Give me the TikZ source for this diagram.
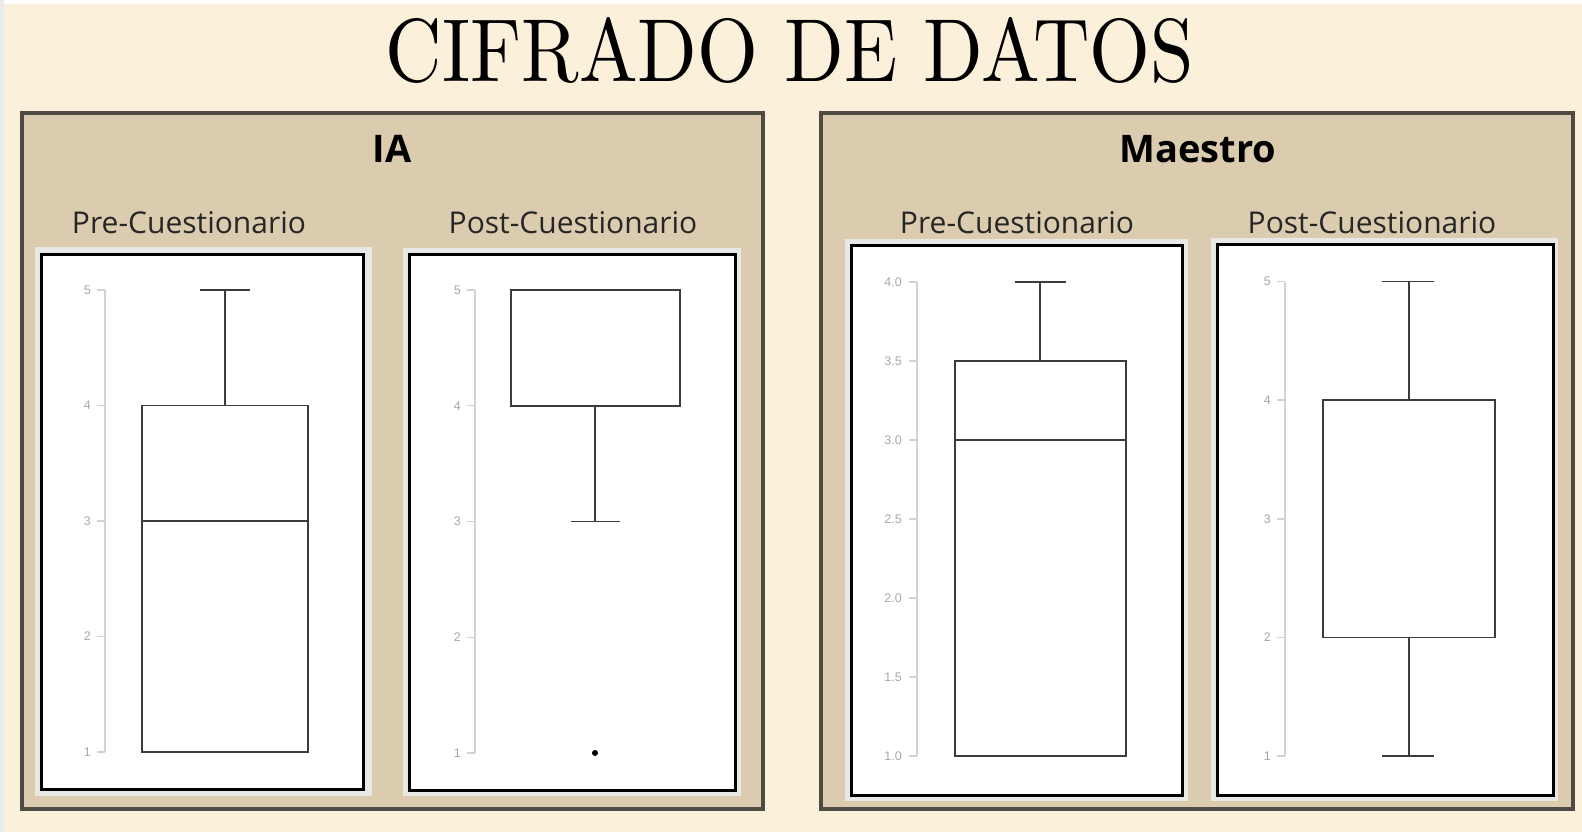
\documentclass[tikz,border=0pt]{standalone}
\usepackage{fontspec}
\usepackage{xcolor}
\usepackage{tikz}
\usetikzlibrary{positioning}
\newfontfamily\opensans{Open Sans}
\newfontfamily\ticksans{Liberation Sans}
\definecolor{cream}{HTML}{FBF0DA}
\definecolor{sand}{HTML}{DBCCB0}
\definecolor{panelline}{HTML}{4E4B45}
\definecolor{boxgray}{HTML}{3C3C3C}
\definecolor{axisgray}{HTML}{D2D2D2}
\definecolor{tickgray}{HTML}{A8A8A8}
\definecolor{halo}{HTML}{E8E8E6}

\begin{document}
\begin{tikzpicture}[
      x=1pt, y=-1pt,
      panel/.style={draw=panelline, fill=sand, line width=4pt},
      haloframe/.style={fill=halo},
      plotframe/.style={draw=black, fill=white, line width=3pt},
      boxline/.style={draw=boxgray, line width=1.8pt},
      axisline/.style={draw=axisgray, line width=1.4pt},
      ticklabel/.style={font=\ticksans\fontsize{12.5}{12.5}\selectfont, text=tickgray, inner sep=0pt, anchor=east},
      paneltitle/.style={font=\opensans\bfseries\fontsize{38}{38}\selectfont, inner sep=0pt, anchor=base},
      subtitle/.style={font=\opensans\fontsize{30}{30}\selectfont, inner sep=0pt, anchor=base, text=black!85}
    ]
    
    % background
    \fill[cream] (0,0) rectangle (1582,832);
    \useasboundingbox (0,0) rectangle (1582,832);
    \fill[white] (0,0) rectangle (1582,4);
    \fill[black!8] (0,0) rectangle (4,832);
    
    \node (title) [inner sep=0pt] at (790,50) {\resizebox{808pt}{64pt}{CIFRADO DE DATOS}};
    
    % panels
    \draw[panel] (22,113) rectangle (763,809);
    \draw[panel] (821,113) rectangle (1573,809);
    
    \node (ia) [paneltitle] at (392,163) {IA};
    \node (maestro) [paneltitle] at (1198,163) {Maestro};
    
    \node (iapre) [subtitle] at (189,233) {Pre-Cuestionario};
    \node (iapost) [subtitle] at (573,233) {Post-Cuestionario};
    \node (mpre) [subtitle] at (1017,233) {Pre-Cuestionario};
    \node (mpost) [subtitle] at (1372,233) {Post-Cuestionario};
    
    % plot frames
    \fill[haloframe] (35,247) rectangle (372,796);
    \fill[haloframe] (403,248) rectangle (741,796);
    \fill[haloframe] (845,239) rectangle (1188,801);
    \fill[haloframe] (1211,238) rectangle (1558,801);
    \draw[plotframe] (41,254) rectangle (363,789);
    \draw[plotframe] (409,254) rectangle (735,790);
    \draw[plotframe] (851,245) rectangle (1182,795);
    \draw[plotframe] (1217,244) rectangle (1553,795);
    
    % IA, pre
    \draw[axisline] (105,290) -- (105,752);
    \foreach \v/\y in {1/752,2/636.5,3/521,4/405.5,5/290} {
      \draw[axisline] (97,\y) -- (105,\y);
      \node (iapre-\v) [ticklabel] at (91,\y) {\v};
    }
    \draw[boxline] (142,405.5) rectangle (308,752);
    \draw[boxline] (142,521) -- (308,521);
    \draw[boxline] (225,405.5) -- (225,290);
    \draw[boxline] (200,290) -- (250,290);
    
    % IA, post
    \draw[axisline] (475,290) -- (475,753);
    \foreach \v/\y in {1/753,2/637.25,3/521.5,4/405.75,5/290} {
      \draw[axisline] (467,\y) -- (475,\y);
      \node (iapost-\v) [ticklabel] at (461,\y) {\v};
    }
    \draw[boxline] (511,290) rectangle (680,405.75);
    \draw[boxline] (595,405.75) -- (595,521.5);
    \draw[boxline] (571,521.5) -- (620,521.5);
    \fill[black] (595,753) circle (3);
    
    % Maestro, pre
    \draw[axisline] (917,282) -- (917,756);
    \foreach \v/\y in {1.0/756,1.5/677,2.0/598,2.5/519,3.0/440,3.5/361,4.0/282} {
      \draw[axisline] (909,\y) -- (917,\y);
      \node (mpre-\v) [ticklabel] at (902,\y) {\v};
    }
    \draw[boxline] (955,361) rectangle (1126,756);
    \draw[boxline] (955,440) -- (1126,440);
    \draw[boxline] (1040,361) -- (1040,282);
    \draw[boxline] (1015,282) -- (1066,282);
    
    % Maestro, post
    \draw[axisline] (1285,281.5) -- (1285,756);
    \foreach \v/\y in {1/756,2/637.5,3/519,4/400,5/281.5} {
      \draw[axisline] (1277,\y) -- (1285,\y);
      \node (mpost-\v) [ticklabel] at (1271,\y) {\v};
    }
    \draw[boxline] (1323,400) rectangle (1495,637.5);
    \draw[boxline] (1409,400) -- (1409,281.5);
    \draw[boxline] (1382,281.5) -- (1434,281.5);
    \draw[boxline] (1409,637.5) -- (1409,756);
    \draw[boxline] (1382,756) -- (1434,756);
    
    \end{tikzpicture}
\end{document}
